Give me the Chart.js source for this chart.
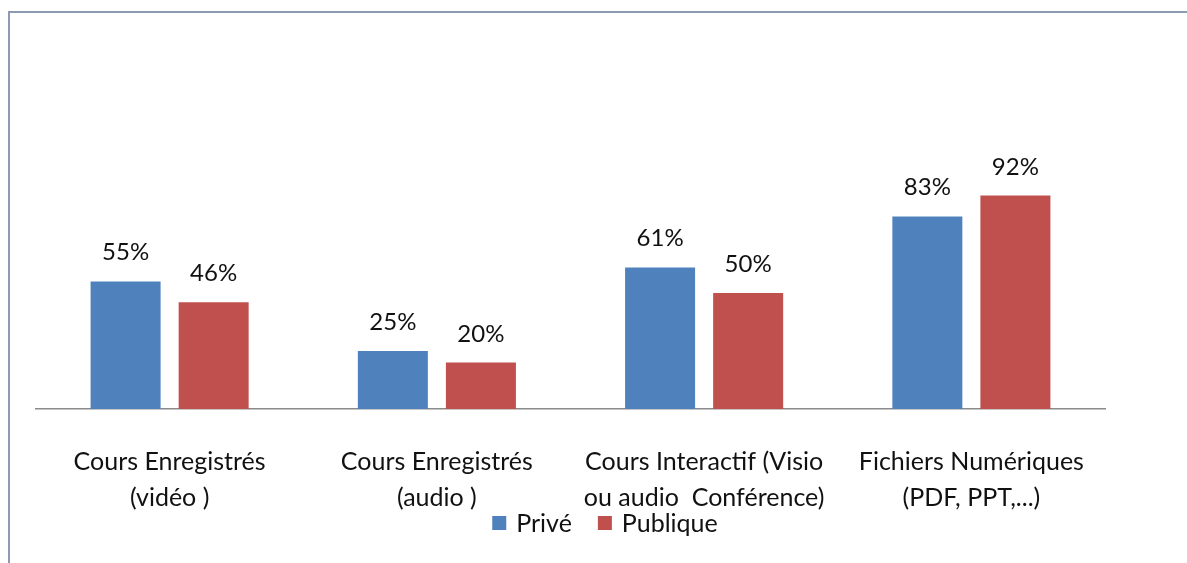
<!DOCTYPE html>
<html>
<head>
<meta charset="utf-8">
<script src="https://cdn.jsdelivr.net/npm/chart.js@4/dist/chart.umd.min.js"></script>
<style>
  html, body { margin: 0; padding: 0; background: #fff; }
  #wrap { width: 1187px; height: 563px; position: relative; }
</style>
</head>
<body>
<div id="wrap"><canvas id="chart"></canvas></div>
<script>
// categories (multi-line labels as in the original)
const categories = [
  ["Cours Enregistrés", "(vidéo )"],
  ["Cours Enregistrés", "(audio )"],
  ["Cours Interactif (Visio", "ou audio  Conférence)"],
  ["Fichiers Numériques", "(PDF, PPT,...)"]
];
// series values (percent)
const prive = [55, 25, 61, 83];
const publique = [46, 20, 50, 92];

const FONT = "Lato, 'Open Sans', sans-serif";
const TEXT = '#111';

// frame line on top and left, like the original export
const framePlugin = {
  id: 'frame',
  beforeDraw(chart) {
    const c = chart.ctx;
    c.save();
    c.strokeStyle = '#8c9bb3';
    c.lineWidth = 2;
    c.beginPath();
    c.moveTo(9, 563);
    c.lineTo(9, 12);
    c.lineTo(1187, 12);
    c.stroke();
    c.restore();
  }
};

// percent labels above each bar
const valueLabels = {
  id: 'valueLabels',
  afterDatasetsDraw(chart) {
    const c = chart.ctx;
    c.save();
    c.font = "24px " + FONT;
    c.fillStyle = TEXT;
    c.textAlign = 'center';
    c.textBaseline = 'alphabetic';
    chart.data.datasets.forEach((ds, i) => {
      chart.getDatasetMeta(i).data.forEach((bar, j) => {
        c.fillText(ds.data[j] + '%', bar.x, bar.y - 21);
      });
    });
    c.restore();
  }
};

// legend squeezed just under the category labels, as in the original
const bottomLegend = {
  id: 'bottomLegend',
  afterDraw(chart) {
    const c = chart.ctx;
    const box = 14, gapText = 10, gapItem = 26;
    const cy = 523, cx = 605;
    c.save();
    c.font = "25px " + FONT;
    c.textBaseline = 'middle';
    const items = chart.data.datasets.map(ds => ({
      label: ds.label, color: ds.backgroundColor, w: c.measureText(ds.label).width
    }));
    let total = items.reduce((s, it) => s + box + gapText + it.w, 0) + gapItem * (items.length - 1);
    let x = cx - total / 2;
    items.forEach(it => {
      c.fillStyle = it.color;
      c.fillRect(x, cy - box / 2, box, box);
      x += box + gapText;
      c.fillStyle = TEXT;
      c.fillText(it.label, x, cy + 1);
      x += it.w + gapItem;
    });
    c.restore();
  }
};

window.onload = () => {
  let ctx = document.getElementById("chart").getContext("2d");
  new Chart(ctx, {
    type: 'bar',
    data: {
      labels: categories,
      datasets: [
        { label: "Privé", data: prive, backgroundColor: "#4f81bd",
          categoryPercentage: 0.659, barPercentage: 0.795 },
        { label: "Publique", data: publique, backgroundColor: "#c0504d",
          categoryPercentage: 0.659, barPercentage: 0.795 }
      ]
    },
    options: {
      responsive: true,
      maintainAspectRatio: false,
      animation: false,
      layout: { padding: { left: 36, right: 82, top: 177, bottom: 14 } },
      plugins: {
        tooltip: { enabled: false },
        legend: { display: false }
      },
      scales: {
        x: {
          grid: { display: false, drawTicks: false },
          border: { display: true, color: '#8a8a8a', width: 1.5 },
          ticks: {
            font: { size: 25, family: FONT, lineHeight: 1.44 },
            color: TEXT,
            padding: 35,
            maxRotation: 0
          },
          afterFit(scale) { scale.height = 140; }
        },
        y: {
          display: false,
          min: 0,
          max: 100
        }
      }
    },
    plugins: [framePlugin, valueLabels, bottomLegend]
  });
};
</script>
</body>
</html>
